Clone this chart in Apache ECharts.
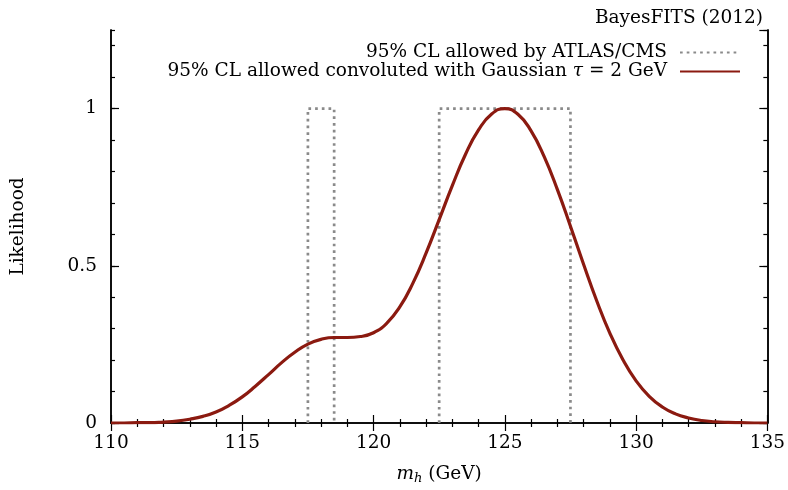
<!DOCTYPE html>
<html>
<head>
<meta charset="utf-8">
<script src="https://cdn.jsdelivr.net/npm/echarts@6/dist/echarts.min.js"></script>
<style>
  html, body { margin: 0; padding: 0; background: #fff; }
  #chart { width: 788px; height: 490px; }
</style>
</head>
<body>
<div id="chart"></div>
<script>
// m_h grid (GeV) and likelihood
const massX = [
  110, 110.5, 111, 111.5, 112, 112.5, 113, 113.5, 114, 114.5,
  115, 115.5, 116, 116.5, 117, 117.5, 118, 118.5, 119, 119.5,
  120, 120.5, 121, 121.5, 122, 122.5, 123, 123.5, 124, 124.5,
  125, 125.5, 126, 126.5, 127, 127.5, 128, 128.5, 129, 129.5,
  130, 130.5, 131, 131.5, 132, 132.5, 133, 133.5, 134, 134.5, 135
]
const likelihood = [
  0.000, 0.000, 0.001, 0.001, 0.003, 0.006, 0.012, 0.021, 0.035, 0.056,
  0.083, 0.117, 0.154, 0.192, 0.225, 0.251, 0.266, 0.272, 0.272, 0.275,
  0.287, 0.317, 0.369, 0.445, 0.540, 0.647, 0.755, 0.854, 0.932, 0.983,
  1.000, 0.982, 0.929, 0.847, 0.743, 0.626, 0.505, 0.389, 0.286, 0.201,
  0.134, 0.085, 0.051, 0.029, 0.016, 0.008, 0.004, 0.002, 0.001, 0.000, 0.000
]
// 95% CL allowed windows (GeV)
const allowedLow = [117.5, 122.5]
const allowedHigh = [118.5, 127.5]
const allowedLevel = 1

const xTicks = [110, 115, 120, 125, 130, 135]
const yTicks = [0, 0.5, 1]

const legendBox = '95% CL allowed by ATLAS/CMS'
const legendCurve = '95% CL allowed convoluted with Gaussian {t|τ} = 2 GeV'

const serif = 'DejaVu Serif'
const fs = 18.5

const chart = echarts.init(document.getElementById('chart'))

const boxSeries = allowedLow.map((lo, i) => ({
  name: legendBox,
  type: 'line',
  xAxisIndex: 0,
  yAxisIndex: 0,
  symbol: 'none',
  silent: true,
  lineStyle: { color: '#8a8a8a', width: 2.7, type: [2.7, 4] },
  itemStyle: { color: '#8a8a8a' },
  data: [[lo, 0], [lo, allowedLevel], [allowedHigh[i], allowedLevel], [allowedHigh[i], 0]]
}))

const frameLine = { show: true, lineStyle: { color: '#000', width: 1.5 } }

function xAxisDef(pos, labels) {
  return {
    type: 'value',
    position: pos,
    min: xTicks[0],
    max: xTicks[xTicks.length - 1],
    interval: 5,
    axisLine: frameLine,
    axisTick: { show: true, inside: true, length: 8, lineStyle: { color: '#000', width: 1.2 } },
    minorTick: { show: true, splitNumber: 5, length: 4, lineStyle: { color: '#000', width: 1.2 } },
    splitLine: { show: false },
    axisLabel: { show: labels, margin: 11, color: '#000', fontFamily: serif, fontSize: fs }
  }
}

function yAxisDef(pos, interval, tickLen, labels) {
  return {
    type: 'value',
    position: pos,
    min: 0,
    max: 1.25,
    interval: interval,
    axisLine: frameLine,
    axisTick: { show: true, inside: true, length: tickLen, lineStyle: { color: '#000', width: 1.2 } },
    splitLine: { show: false },
    axisLabel: {
      show: labels,
      showMaxLabel: false,
      margin: 14,
      color: '#000',
      fontFamily: serif,
      fontSize: fs,
      formatter: v => (yTicks.indexOf(v) >= 0 ? String(v) : '')
    }
  }
}

const bottomX = xAxisDef('bottom', true)
bottomX.name = '{i|m}{s|h} (GeV)'
bottomX.nameLocation = 'middle'
bottomX.nameGap = 41
bottomX.nameTextStyle = {
  color: '#000', fontFamily: serif, fontSize: fs,
  rich: {
    i: { fontFamily: serif, fontStyle: 'italic', fontSize: fs, color: '#000' },
    s: { fontFamily: serif, fontStyle: 'italic', fontSize: 13, color: '#000', verticalAlign: 'bottom', padding: [8, 0, 0, 0] }
  }
}

const leftY = yAxisDef('left', 0.5, 8, true)
leftY.name = 'Likelihood'
leftY.nameLocation = 'middle'
leftY.nameGap = 83
leftY.nameTextStyle = { color: '#000', fontFamily: serif, fontSize: fs }

chart.setOption({
  animation: false,
  backgroundColor: '#fff',
  title: {
    text: 'BayesFITS (2012)',
    right: 20,
    top: 4,
    textStyle: { color: '#000', fontFamily: serif, fontSize: fs, fontWeight: 'normal' }
  },
  legend: {
    orient: 'vertical',
    align: 'right',
    right: 42,
    top: 38,
    itemWidth: 60,
    itemHeight: 14,
    itemGap: 0,
    selectedMode: false,
    itemStyle: { opacity: 0 },
    data: [legendBox, legendCurve],
    textStyle: {
      color: '#000', fontFamily: serif, fontSize: fs, padding: [0, 8, 0, 0],
      rich: { t: { fontFamily: serif, fontStyle: 'italic', fontSize: fs, color: '#000' } }
    }
  },
  grid: { left: 111, right: 20, top: 30, bottom: 66 },
  xAxis: [bottomX, xAxisDef('top', false)],
  yAxis: [
    leftY,
    yAxisDef('left', 0.1, 4, false),
    yAxisDef('right', 0.5, 8, false),
    yAxisDef('right', 0.1, 4, false)
  ],
  series: boxSeries.concat([{
    name: legendCurve,
    type: 'line',
    xAxisIndex: 0,
    yAxisIndex: 0,
    symbol: 'none',
    smooth: true,
    lineStyle: { color: '#8b1a10', width: 3.2 },
    itemStyle: { color: '#8b1a10' },
    data: massX.map((x, i) => [x, likelihood[i]])
  }])
})
</script>
</body>
</html>
